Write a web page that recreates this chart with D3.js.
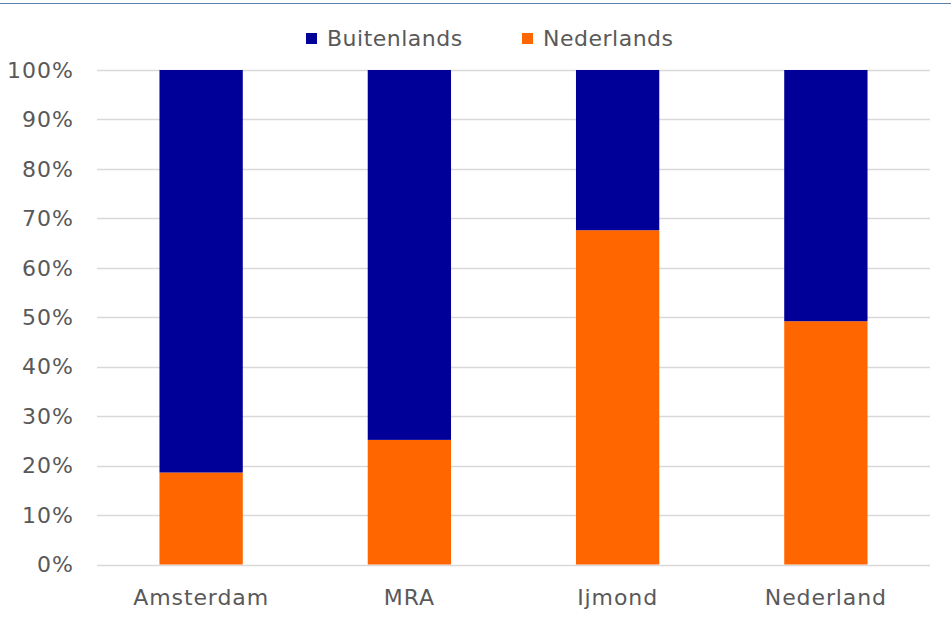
<!DOCTYPE html>
<html><head><meta charset="utf-8">
<script src="https://cdn.jsdelivr.net/npm/d3@7"></script>
<style>body{margin:0;background:#fff}svg{display:block}</style>
</head><body>
<script>
const categories = ["Amsterdam", "MRA", "Ijmond", "Nederland"];
const nederlands = [18.6, 25.2, 67.6, 49.2];
const buitenlands = [81.4, 74.8, 32.4, 50.8];
const seriesNames = ["Buitenlands", "Nederlands"];
const seriesColors = ["#000099", "#FF6600"];
const yTicks = [0,10,20,30,40,50,60,70,80,90,100];

const W = 951, H = 620;
const svg = d3.select("body").append("svg").attr("width", W).attr("height", H);
const font = "'DejaVu Sans', Verdana, sans-serif";

svg.append("line").attr("x1",0).attr("x2",W).attr("y1",3.5).attr("y2",3.5)
  .attr("stroke","#5b80aa").attr("stroke-width",1);

const x = d3.scaleBand().domain(categories).range([97, 930]).paddingInner(0.6).paddingOuter(0.3);
const y = d3.scaleLinear().domain([0, 100]).range([564.5, 70]);

const grid = svg.append("g");
grid.selectAll("line").data(yTicks).join("line")
  .attr("x1", 97).attr("x2", 930)
  .attr("y1", d => Math.round(y(d)) + 0.5).attr("y2", d => Math.round(y(d)) + 0.5)
  .attr("stroke", "#d9d9d9").attr("stroke-width", 1.3);

const yAxis = d3.axisLeft(y).tickValues(yTicks).tickFormat(d => d + "%").tickSize(0).tickPadding(0);
const ya = svg.append("g").attr("transform", "translate(74,0)").call(yAxis);
ya.select(".domain").remove();
ya.selectAll("text").attr("font-family", font).attr("font-size", 22).attr("letter-spacing", 1)
  .attr("fill", "#595959").attr("dy", "0.33em");

const rows = categories.map((c, i) => ({cat: c, Nederlands: nederlands[i], Buitenlands: buitenlands[i]}));
const stack = d3.stack().keys(["Nederlands", "Buitenlands"])(rows);
const color = d3.scaleOrdinal().domain(seriesNames).range(seriesColors);

svg.append("g").selectAll("g").data(stack).join("g")
  .attr("fill", d => color(d.key))
  .selectAll("rect").data(d => d).join("rect")
  .attr("x", d => x(d.data.cat))
  .attr("width", x.bandwidth())
  .attr("y", d => y(d[1]))
  .attr("height", d => y(d[0]) - y(d[1]));

const xAxis = d3.axisBottom(x).tickSize(0).tickPadding(0);
const xa = svg.append("g").attr("transform", "translate(0,605)").call(xAxis);
xa.select(".domain").remove();
xa.selectAll("text").attr("font-family", font).attr("font-size", 22).attr("letter-spacing", 0.9)
  .attr("fill", "#595959").attr("y", 0).attr("dy", 0);

const legend = svg.append("g");
const legX = [306, 522];
seriesNames.forEach((s, i) => {
  legend.append("rect").attr("x", legX[i]).attr("y", 33).attr("width", 11).attr("height", 11).attr("fill", seriesColors[i]);
  legend.append("text").attr("x", legX[i] + 21).attr("y", 46).text(s)
    .attr("font-family", font).attr("font-size", 22).attr("letter-spacing", 0.5).attr("fill", "#595959");
});
</script>
</body></html>
